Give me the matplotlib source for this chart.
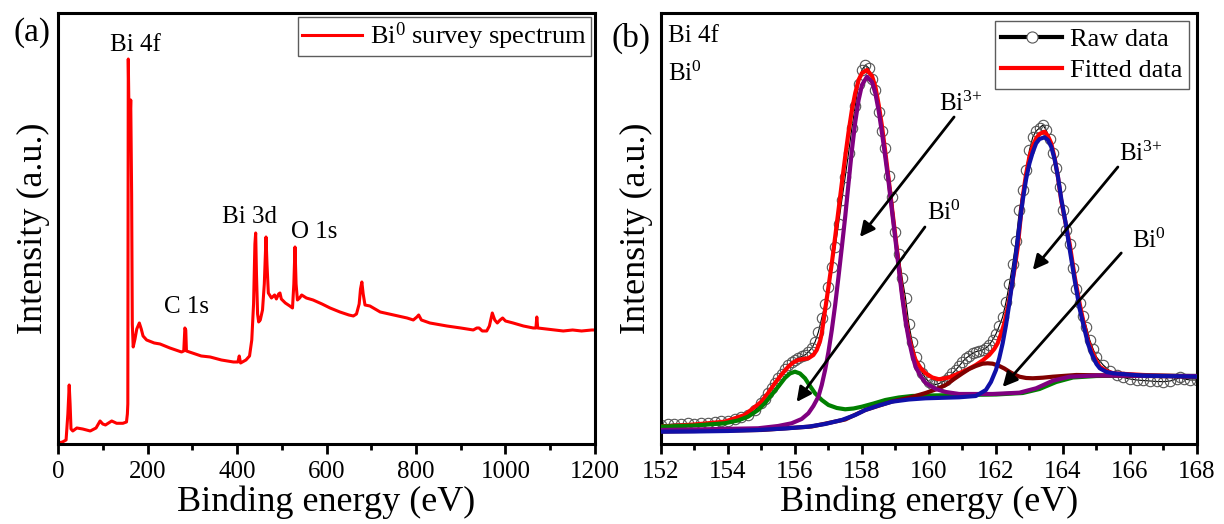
import numpy as np
import matplotlib
matplotlib.use("Agg")
import matplotlib.pyplot as plt
from matplotlib.lines import Line2D

plt.rcParams['font.family'] = ['Liberation Serif', 'DejaVu Serif']
plt.rcParams['mathtext.fontset'] = 'custom'
plt.rcParams['mathtext.rm'] = 'Liberation Serif'
plt.rcParams['mathtext.it'] = 'Liberation Serif:italic'
plt.rcParams['axes.linewidth'] = 2.2

# (a) survey spectrum: binding energy (eV), intensity (a.u.)
survey = [
    (0, 1), (10, 2), (18, 4), (22, 30), (25, 59), (27, 40), (29, 15), (33, 13),
    (42, 16), (55, 15), (72, 13), (85, 16), (94, 23), (100, 20), (106, 19),
    (120, 23), (131, 20.7), (145, 20.7), (153, 22), (155, 30), (156, 40),
    (157, 385), (159.5, 300), (162.5, 344), (164.5, 250), (166, 120), (168, 97),
    (172, 105), (176, 115), (181.7, 121), (186, 115), (190, 108), (198, 104),
    (215, 101), (228, 100), (250, 96), (276, 92), (281, 93), (283.5, 116),
    (285.5, 114), (287, 93), (300, 91), (320, 88), (340, 87), (365, 84),
    (392, 82), (402, 82), (405, 88), (408, 81), (420, 84), (428, 88), (433, 104),
    (437, 140), (440, 200), (441.7, 211), (443.5, 170), (446, 130), (448.4, 122),
    (452, 124), (457, 134), (461, 160), (464.8, 207), (467, 180), (470, 151),
    (477, 146), (484, 149), (488, 145), (493, 150), (496, 151), (499, 145),
    (508, 141), (518, 138), (524, 136), (527, 160), (529.6, 197), (532, 160),
    (535, 144), (540, 146), (544.5, 149), (555, 146), (570, 144), (590, 140),
    (608, 136), (630, 132), (650, 129), (660, 128), (667, 130), (673, 140),
    (676, 155), (679, 162), (682, 150), (686, 139), (697, 138), (720, 132),
    (750, 129), (780, 126), (794, 124), (802, 127), (806, 129), (812, 124),
    (831, 121), (869, 118), (900, 116), (928, 114), (936, 116), (941, 116),
    (948, 113), (958, 113), (964, 118), (970.5, 131), (976, 124), (981.7, 121),
    (988, 124), (993.6, 126), (1000, 123), (1017, 121), (1040, 118), (1062, 116),
    (1068, 116), (1070, 127), (1072, 116), (1090, 115), (1110, 114), (1129, 113),
    (1150, 114), (1170, 113), (1193, 114), (1200, 114),
]
survey_peaks = [("Bi 4f", 172, 399), ("C 1s", 287, 137),
                ("Bi 3d", 427, 227), ("O 1s", 572, 212)]

# (b) Bi 4f high resolution spectrum
raw = [
    (152.0, 19), (152.2, 19.5), (152.4, 20), (152.6, 20), (152.8, 20.5), (153.0, 20),
    (153.2, 21), (153.4, 21), (153.6, 21.5), (153.8, 22.5), (154.0, 23.3), (154.2, 24.5),
    (154.4, 26.5), (154.6, 29), (154.8, 33.5), (155.0, 40.7), (155.1, 45), (155.2, 50.5),
    (155.3, 56), (155.4, 61), (155.5, 65.7), (155.6, 70), (155.7, 74.5), (155.8, 79),
    (155.9, 82), (156.0, 84), (156.1, 86), (156.2, 87.5), (156.3, 89), (156.4, 92),
    (156.5, 95.7), (156.6, 102), (156.7, 112), (156.8, 126), (156.9, 140), (157.0, 157),
    (157.1, 177), (157.2, 197), (157.3, 220), (157.4, 244), (157.5, 267), (157.6, 291),
    (157.7, 316), (157.8, 338), (157.9, 360), (158.0, 374), (158.1, 379), (158.2, 376),
    (158.3, 365), (158.4, 354), (158.5, 332), (158.6, 313), (158.7, 296), (158.8, 268),
    (158.9, 247), (159.0, 212), (159.1, 190), (159.2, 166), (159.3, 146), (159.4, 120),
    (159.5, 102), (159.6, 87), (159.7, 78), (159.8, 71), (159.9, 66), (160.0, 62),
    (160.1, 60), (160.2, 59.5), (160.3, 60.5), (160.4, 62), (160.5, 64), (160.6, 67),
    (160.7, 70.5), (160.8, 74), (160.9, 78), (161.0, 82), (161.1, 85.7), (161.2, 88),
    (161.3, 90.5), (161.4, 92.3), (161.5, 93), (161.6, 94), (161.7, 96), (161.8, 99),
    (161.9, 104), (162.0, 110), (162.1, 118), (162.2, 127), (162.3, 142), (162.4, 160),
    (162.5, 180), (162.6, 203), (162.7, 234), (162.8, 254), (162.9, 274), (163.0, 294),
    (163.1, 307), (163.2, 313), (163.3, 316), (163.4, 319), (163.5, 314), (163.6, 305),
    (163.7, 291), (163.8, 276), (163.9, 257), (164.0, 234), (164.1, 214), (164.2, 200),
    (164.3, 176), (164.4, 155), (164.5, 141), (164.6, 128), (164.7, 117), (164.8, 104),
    (164.9, 95), (165.0, 87), (165.2, 79), (165.4, 73), (165.6, 69), (165.8, 66.5),
    (166.0, 65), (166.2, 64), (166.4, 63.5), (166.6, 63), (166.8, 62.5), (167.0, 62.3),
    (167.2, 63), (167.4, 65), (167.5, 67.3), (167.6, 65), (167.8, 64), (168.0, 64),
]
fitted = [
    (152, 17.3), (153, 19.5), (153.9, 22.3), (154.5, 29), (155.0, 42.3), (155.2, 51),
    (155.4, 60.7), (155.6, 69.5), (155.8, 77.3), (155.95, 81.5), (156.1, 84), (156.25, 85),
    (156.4, 85.7), (156.55, 89), (156.65, 94), (156.75, 103), (156.8, 110.7), (156.9, 134),
    (157.0, 157), (157.1, 180.7), (157.2, 207), (157.3, 234), (157.4, 261), (157.5, 287.3),
    (157.6, 312), (157.7, 334), (157.8, 351), (157.9, 364), (158.0, 371), (158.15, 374),
    (158.3, 368), (158.4, 357.3), (158.5, 339), (158.6, 317.3), (158.7, 291), (158.8, 264),
    (158.9, 235), (159.0, 207.3), (159.1, 178), (159.2, 150.7), (159.3, 126), (159.4, 107.3),
    (159.5, 94), (159.6, 84), (159.75, 76), (159.9, 70.7), (160.1, 66.5), (160.3, 64.7),
    (160.6, 66.5), (160.9, 70.7), (161.15, 74.5), (161.4, 79), (161.6, 83.5), (161.8, 89),
    (161.95, 95), (162.05, 100.7), (162.15, 110), (162.25, 120.7), (162.35, 136),
    (162.45, 154), (162.55, 174), (162.65, 197), (162.8, 247.3), (162.9, 270), (163.0, 287.3),
    (163.1, 298), (163.2, 305.7), (163.3, 310), (163.45, 312.3), (163.55, 308),
    (163.65, 300.7), (163.75, 286), (163.85, 267.3), (163.95, 243), (164.1, 217.3),
    (164.2, 200), (164.35, 167.3), (164.5, 140), (164.6, 124), (164.75, 103), (164.85, 94),
    (165.0, 83), (165.1, 77.3), (165.3, 73), (165.5, 70.7), (166.4, 69), (168.0, 67.3),
]
bi0_72 = [
    (152, 17.3), (153, 18.5), (153.9, 20.7), (154.3, 23.5), (154.6, 27.3), (154.9, 34),
    (155.1, 40.7), (155.3, 49), (155.5, 57.3), (155.7, 66), (155.85, 70.5), (156.0, 72.3),
    (156.15, 70.5), (156.3, 65.7), (156.45, 58), (156.6, 50.7), (156.8, 44), (157.0, 39),
    (157.25, 36), (157.5, 34.7), (157.75, 35.5), (158.0, 37.3), (158.35, 40.5), (158.7, 44),
    (159.1, 46.5), (159.5, 48), (160, 48.5), (161, 49), (162, 49.5), (162.8, 51),
    (163.3, 55), (163.8, 62), (164.3, 66.5), (165, 68), (166, 68.3), (168, 68),
]
bi0_52 = [
    (152, 12.5), (155, 14), (156.5, 17.5), (157.5, 24.5), (158.1, 34), (158.9, 42.5),
    (159.5, 47), (159.9, 51), (160.2, 54.5), (160.5, 59), (160.75, 65), (161.0, 70.7),
    (161.2, 75), (161.4, 78), (161.6, 80.3), (161.75, 80.7), (161.9, 80.3), (162.1, 78),
    (162.25, 75.5), (162.4, 72.3), (162.55, 69.5), (162.7, 67.3), (162.9, 66), (163.1, 65.7),
    (163.4, 66.3), (163.7, 67.3), (164.4, 69), (165.9, 68.3), (168, 67.3),
]
bi3_72 = [
    (152, 14), (153.5, 14.8), (154.9, 15.7), (155.5, 18), (155.9, 20.7), (156.2, 25),
    (156.4, 30.7), (156.55, 38), (156.7, 47.3), (156.8, 59), (156.9, 74), (157.0, 92),
    (157.1, 114), (157.2, 139), (157.3, 167.3), (157.4, 197), (157.5, 227.3), (157.6, 261),
    (157.7, 294), (157.8, 322), (157.9, 344), (158.0, 359), (158.15, 367.3), (158.3, 362),
    (158.4, 350.7), (158.5, 333), (158.6, 310.7), (158.7, 286), (158.8, 260.7), (158.9, 232),
    (159.0, 204), (159.1, 175), (159.2, 147.3), (159.3, 123), (159.4, 104), (159.5, 89),
    (159.6, 77.3), (159.75, 68), (159.9, 61), (160.2, 55), (160.5, 52), (160.9, 50),
    (161.9, 50), (162.7, 51.3), (163.2, 55.7), (163.7, 63.3), (164.2, 67.3), (165, 68.5),
    (168, 68),
]
bi3_52 = [
    (152, 12.3), (153, 12.5), (154, 13), (154.9, 14), (155.7, 15.5), (156.4, 17.3),
    (156.9, 20), (157.4, 24), (157.8, 29), (158.1, 34), (158.5, 38.5), (158.9, 42.3),
    (159.4, 44.5), (159.9, 45.7), (160.9, 46.7), (161.4, 48), (161.7, 54), (161.85, 62),
    (162.0, 74), (162.1, 86), (162.2, 100.7), (162.3, 119), (162.4, 140.7), (162.5, 165),
    (162.6, 190.7), (162.7, 218), (162.8, 244), (162.9, 265), (163.0, 280.7), (163.1, 292),
    (163.2, 300.7), (163.3, 305), (163.45, 306.7), (163.55, 304), (163.65, 297.3),
    (163.75, 285), (163.85, 267.3), (163.95, 245), (164.1, 217.3), (164.2, 195),
    (164.35, 164), (164.5, 135), (164.6, 120.7), (164.75, 100), (164.85, 90.7), (165.0, 80),
    (165.1, 75.7), (165.3, 72), (165.5, 70.7), (166.4, 68.3), (168, 67.3),
]
# (label, text x, text y, arrow tail, arrow head)
state_labels = [
    ("Bi$^{\\mathrm{3{+}}}$", 160.95, 340, (160.75, 327), (157.94, 207)),
    ("Bi$^{\\mathrm{0}}$", 160.45, 231, (159.88, 217), (156.05, 42)),
    ("Bi$^{\\mathrm{3{+}}}$", 166.33, 290, (165.64, 277), (163.1, 174)),
    ("Bi$^{\\mathrm{0}}$", 166.57, 203, (165.74, 191), (162.2, 57)),
]


def style_axes(ax, xlim, major, minor):
    ax.set_xlim(*xlim)
    ax.set_ylim(0, 431)
    ax.set_yticks([])
    ax.set_xticks(major)
    ax.set_xticks(minor, minor=True)
    ax.tick_params(axis='x', which='major', direction='out', length=7, width=2,
                   labelsize=18, pad=5)
    ax.tick_params(axis='x', which='minor', direction='out', length=4, width=2)
    ax.set_xlabel('Binding energy (eV)', fontsize=26, labelpad=2)
    ax.set_ylabel('Intensity (a.u.)', fontsize=26, labelpad=6)


fig = plt.figure(figsize=(12.24, 5.24), dpi=100)
ax1 = fig.add_axes([0.0474, 0.1527, 0.4387, 0.8225])
ax2 = fig.add_axes([0.5400, 0.1527, 0.4379, 0.8225])

# --- survey ---
se, si = np.array(survey).T
ax1.plot(se, si, color='#ff0000', lw=2.2, label='Bi$^{\\mathrm{0}}$ survey spectrum')
for name, x, y in survey_peaks:
    ax1.text(x, y, name, fontsize=18, ha='center', va='center')
style_axes(ax1, (0, 1200), np.arange(0, 1201, 200), np.arange(100, 1200, 200))
leg1 = ax1.legend(loc='upper right', fontsize=19, frameon=True, fancybox=False,
                  edgecolor='#333333', handlelength=2.3, handletextpad=0.3,
                  borderpad=0.15, borderaxespad=0.15)
leg1.get_frame().set_linewidth(1.0)
fig.text(0.026, 0.938, '(a)', fontsize=24, ha='center', va='center')

# --- Bi 4f ---
re_, ri = np.array(raw).T
ax2.plot(re_, ri, color='k', lw=0.8, marker='o', ms=7.5, mfc='none', mec='#555555',
         mew=0.8, zorder=2)
for data, col in [(fitted, '#ff0000'), (bi0_72, '#008000'), (bi0_52, '#800000'),
                  (bi3_72, '#800080'), (bi3_52, '#1010a8')]:
    e, i = np.array(data).T
    ax2.plot(e, i, color=col, lw=3, zorder=3, solid_capstyle='round')

for txt, tx, ty, tail, head in state_labels:
    ax2.text(tx, ty, txt, fontsize=18, ha='center', va='center')
    ax2.annotate('', xy=head, xytext=tail,
                 arrowprops=dict(arrowstyle='-|>', color='k', lw=2,
                                 mutation_scale=22, shrinkA=0, shrinkB=0))

ax2.text(152.2, 408, 'Bi 4f', fontsize=18, ha='left', va='center')
ax2.text(152.2, 370, 'Bi$^{\\mathrm{0}}$', fontsize=18, ha='left', va='center')
style_axes(ax2, (152, 168), np.arange(152, 169, 2), np.arange(153, 168, 2))

handles = [Line2D([], [], color='k', lw=3, marker='o', ms=8, mfc='white',
                  mec='#555555', mew=0.8),
           Line2D([], [], color='#ff0000', lw=3)]
leg2 = ax2.legend(handles, ['Raw data', 'Fitted data'], loc='upper right', fontsize=19,
                  frameon=True, fancybox=False, edgecolor='#333333', numpoints=1,
                  handlelength=2.3, handletextpad=0.3, labelspacing=0.3,
                  borderpad=0.25, borderaxespad=0.3)
leg2.get_frame().set_linewidth(1.0)
fig.text(0.5155, 0.927, '(b)', fontsize=24, ha='center', va='center')

fig.savefig('out.png', dpi=100)
